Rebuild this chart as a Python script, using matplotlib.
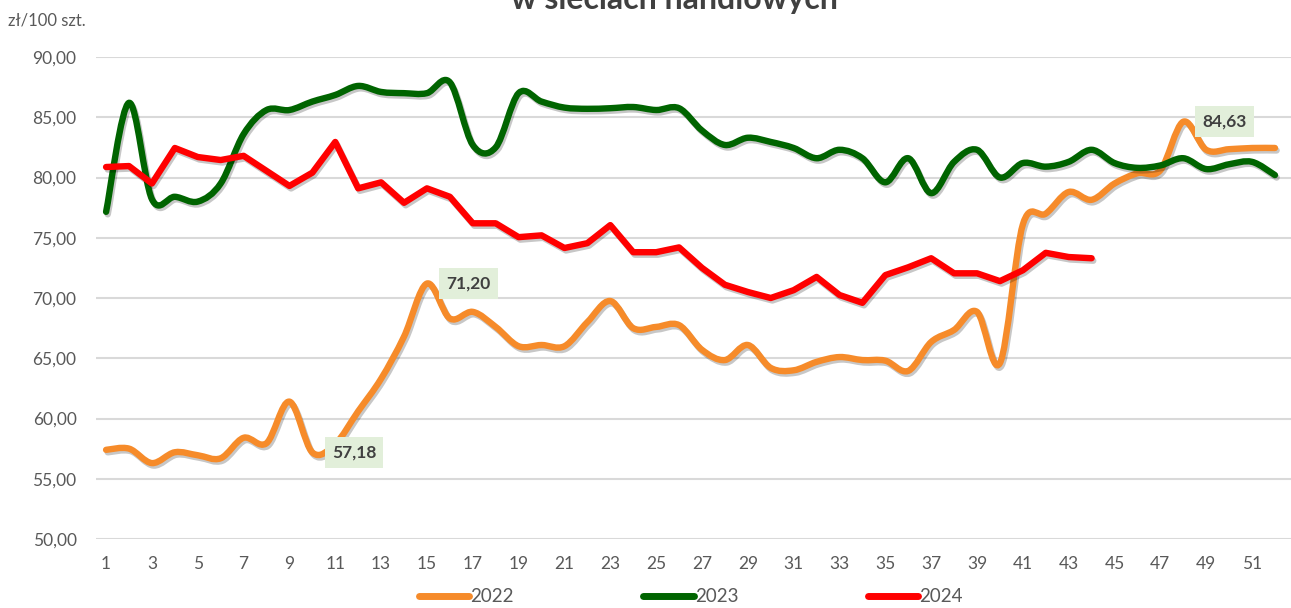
import matplotlib
matplotlib.use("Agg")
import matplotlib.pyplot as plt
from matplotlib.path import Path
from matplotlib.patches import PathPatch
from matplotlib.lines import Line2D
import matplotlib.patheffects as pe
import numpy as np

weeks = list(range(1, 53))
y2022 = [57.4, 57.5, 56.3, 57.2, 56.95, 56.7, 58.4, 57.95, 61.4, 57.18,
         57.9, 60.6, 63.3, 66.8, 71.20, 68.3, 68.85, 67.6, 66.0, 66.1,
         66.0, 68.0, 69.75, 67.5, 67.6, 67.75, 65.7, 64.85, 66.1, 64.2,
         64.0, 64.7, 65.1, 64.85, 64.8, 63.95, 66.35, 67.35, 68.85, 64.6,
         76.1, 77.0, 78.8, 78.15, 79.5, 80.35, 80.6, 84.63, 82.3, 82.35,
         82.45, 82.45]
y2023 = [77.15, 86.2, 78.2, 78.4, 78.0, 79.5, 83.6, 85.6, 85.6, 86.3,
         86.85, 87.6, 87.1, 87.0, 87.0, 87.9, 82.7, 82.5, 87.0, 86.3,
         85.8, 85.7, 85.75, 85.85, 85.6, 85.75, 83.9, 82.7, 83.3, 82.95,
         82.45, 81.6, 82.3, 81.6, 79.6, 81.6, 78.7, 81.3, 82.3, 80.0,
         81.2, 80.9, 81.3, 82.3, 81.2, 80.8, 81.0, 81.6, 80.7, 81.1,
         81.3, 80.2]
y2024 = [80.87, 80.95, 79.5, 82.45, 81.7, 81.45, 81.8, 80.55, 79.3, 80.4,
         82.95, 79.1, 79.6, 77.9, 79.1, 78.4, 76.2, 76.2, 75.05, 75.2,
         74.15, 74.55, 76.05, 73.8, 73.8, 74.2, 72.5, 71.1, 70.5, 70.0,
         70.65, 71.75, 70.25, 69.6, 71.9, 72.55, 73.3, 72.05, 72.05, 71.4,
         72.3, 73.75, 73.4, 73.3]
series_names = ["2022", "2023", "2024"]
colors = ["#F68B2A", "#006400", "#FF0000"]
labels_2022 = [(10, "57,18"), (15, "71,20"), (48, "84,63")]
xtick_vals = list(range(1, 52, 2))
ytick_vals = [50, 55, 60, 65, 70, 75, 80, 85, 90]
title_text = "w sieciach handlowych"
unit_text = "zł/100 szt."

plt.rcParams['font.family'] = ['Lato', 'DejaVu Sans']

fig = plt.figure(figsize=(12.91, 6.08), dpi=100)
ax = fig.add_axes([96/1291, (608-539)/608, (1291-96)/1291, (539-57)/608])
ax.set_xlim(0.56, 52.7)
ax.set_ylim(50, 90)


def smooth_path(xs, ys):
    pts = np.column_stack([xs, ys]).astype(float)
    n = len(pts)
    verts = [pts[0]]
    codes = [Path.MOVETO]
    for i in range(n - 1):
        p0 = pts[i - 1] if i > 0 else pts[i]
        p1 = pts[i]
        p2 = pts[i + 1]
        p3 = pts[i + 2] if i + 2 < n else pts[i + 1]
        c1 = p1 + (p2 - p0) / 6.0
        c2 = p2 - (p3 - p1) / 6.0
        verts += [c1, c2, p2]
        codes += [Path.CURVE4] * 3
    return Path(verts, codes)


lw = 4.6
shadow = [pe.SimpleLineShadow(offset=(1.2, -1.8), shadow_color='black', alpha=0.22),
          pe.Normal()]

for ys, col in [(y2022, colors[0]), (y2023, colors[1])]:
    xs = weeks[:len(ys)]
    patch = PathPatch(smooth_path(xs, ys), fill=False, edgecolor=col, lw=lw,
                      capstyle='round', joinstyle='round', zorder=3)
    patch.set_path_effects(shadow)
    ax.add_patch(patch)

ax.plot(weeks[:len(y2024)], y2024, color=colors[2], lw=lw, solid_capstyle='round',
        solid_joinstyle='round', zorder=4, path_effects=shadow)

for wk, txt in labels_2022:
    ax.annotate(txt, xy=(wk, y2022[wk - 1]), xytext=(14, 0), textcoords='offset points',
                va='center', ha='left', fontsize=12.5, fontweight='bold', color='#404040',
                bbox=dict(boxstyle='square,pad=0.42', fc='#E2EFDA', ec='none'), zorder=6)

ax.set_yticks(ytick_vals)
ax.set_yticklabels([f"{v:.2f}".replace('.', ',') for v in ytick_vals])
ax.set_xticks(xtick_vals)
ax.set_xticklabels([str(v) for v in xtick_vals])
ax.tick_params(axis='both', length=0, labelsize=12.5, labelcolor='#595959')
ax.tick_params(axis='y', pad=14)
ax.tick_params(axis='x', pad=12)
ax.grid(axis='y', color='#D9D9D9', lw=1.5)
ax.set_axisbelow(True)
for s in ax.spines.values():
    s.set_visible(False)

fig.text(8/1291, 1 - 21/608, unit_text, fontsize=12, color='#595959', va='center', ha='left')
fig.text(674/1291, 1 - 9/608, title_text, fontsize=23, fontweight='bold', color='#404040',
         ha='center', va='baseline')

handles = [Line2D([0], [0], color=c, lw=5, solid_capstyle='round') for c in colors]
leg = fig.legend(handles, series_names, loc='center', bbox_to_anchor=(0.535, 1 - 597/608),
                 ncol=3, frameon=False, fontsize=13.5, handlelength=2.7, handletextpad=0.05,
                 columnspacing=6.9, labelcolor='#595959')

fig.savefig("out.png", dpi=100)
